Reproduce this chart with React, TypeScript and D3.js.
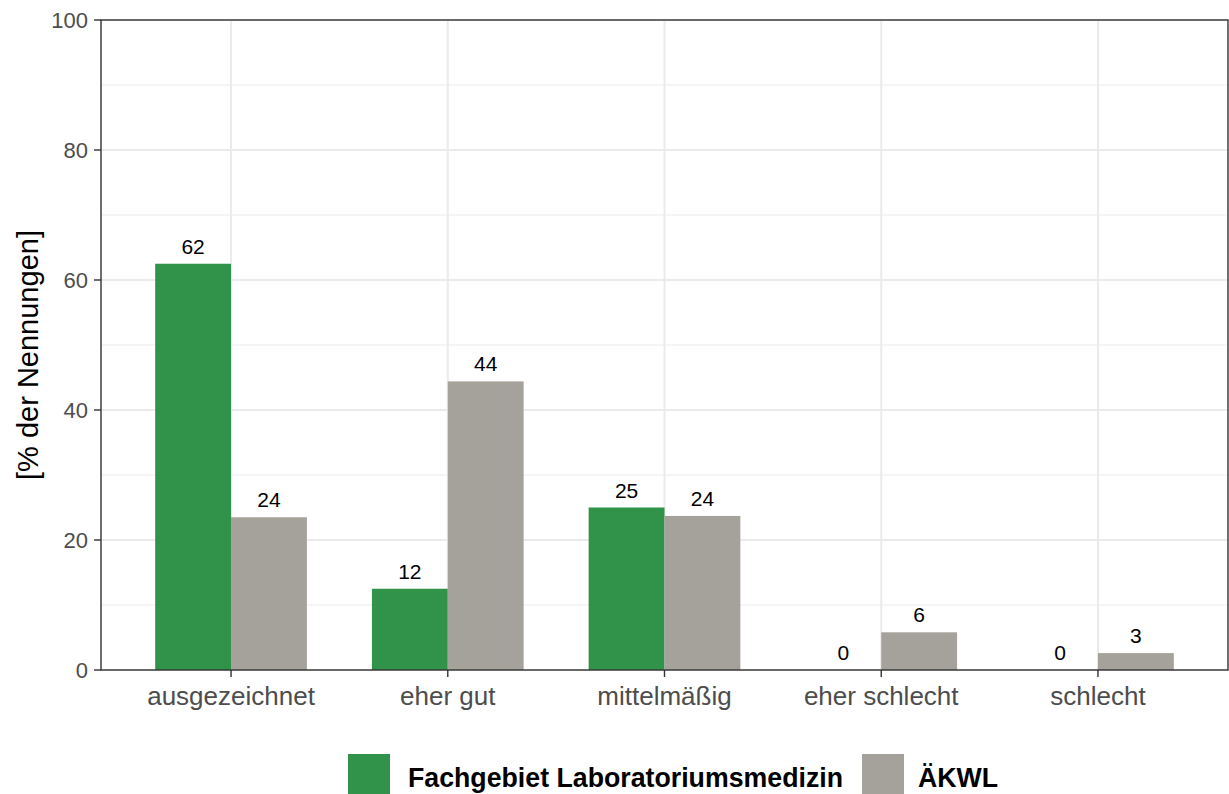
import React from "react";
import * as d3 from "d3";

const categories = ["ausgezeichnet", "eher gut", "mittelmäßig", "eher schlecht", "schlecht"];
const seriesNames = ["Fachgebiet Laboratoriumsmedizin", "ÄKWL"];
const greenValues = [62.5, 12.5, 25.0, 0, 0];
const greyValues = [23.5, 44.4, 23.7, 5.8, 2.6];
const greenLabels = ["62", "12", "25", "0", "0"];
const greyLabels = ["24", "44", "24", "6", "3"];
const yTicks = [0, 20, 40, 60, 80, 100];
const yMinor = [10, 30, 50, 70, 90];
const colors = ["#31934A", "#A5A29B"];

const W = 1229, H = 794;
const L = 101, R = 1228, T = 20, B = 670;

export default function App() {
  const x = d3.scaleLinear().domain([0.4, categories.length + 0.6]).range([L, R]);
  const y = d3.scaleLinear().domain([0, 100]).range([B, T]);
  const unit = x(2) - x(1);
  const barW = 0.35 * unit;
  const series = [
    { vals: greenValues, labels: greenLabels, color: colors[0], off: -1 },
    { vals: greyValues, labels: greyLabels, color: colors[1], off: 0 },
  ];
  const font = "Liberation Sans, Arial, sans-serif";
  return (
    <svg width={W} height={H} style={{ position: "absolute", left: 0, top: 0, fontFamily: font }}>
      <rect x={0} y={0} width={W} height={H} fill="#fff" />
      {yMinor.map((v) => (
        <line key={"mn" + v} x1={L} x2={R} y1={y(v)} y2={y(v)} stroke="#EBEBEB" strokeWidth={1} />
      ))}
      {yTicks.map((v) => (
        <line key={"mj" + v} x1={L} x2={R} y1={y(v)} y2={y(v)} stroke="#EBEBEB" strokeWidth={2} />
      ))}
      {categories.map((c, i) => (
        <line key={"vg" + c} x1={x(i + 1)} x2={x(i + 1)} y1={T} y2={B} stroke="#EBEBEB" strokeWidth={2} />
      ))}
      {series.map((s, si) =>
        s.vals.map((v, i) => (
          <rect key={"b" + si + i} x={x(i + 1) + s.off * barW} y={y(v)} width={barW} height={B - y(v)} fill={s.color} />
        ))
      )}
      {series.map((s, si) =>
        s.vals.map((v, i) => (
          <text key={"l" + si + i} x={x(i + 1) + s.off * barW + barW / 2} y={y(v) - 10} textAnchor="middle" fontSize={21} fill="#000">
            {s.labels[i]}
          </text>
        ))
      )}
      <rect x={L} y={T} width={R - L} height={B - T} fill="none" stroke="#333" strokeWidth={1.4} />
      {yTicks.map((v) => (
        <g key={"yt" + v}>
          <line x1={L - 7} x2={L} y1={y(v)} y2={y(v)} stroke="#333" strokeWidth={1.4} />
          <text x={L - 13} y={y(v)} dy="0.36em" textAnchor="end" fontSize={22} fill="#4D4D4D">{v}</text>
        </g>
      ))}
      {categories.map((c, i) => (
        <g key={"xt" + c}>
          <line x1={x(i + 1)} x2={x(i + 1)} y1={B} y2={B + 7} stroke="#333" strokeWidth={1.4} />
          <text x={x(i + 1)} y={705} textAnchor="middle" fontSize={26} fill="#4D4D4D">{c}</text>
        </g>
      ))}
      <text transform={`translate(38,${355}) rotate(-90)`} textAnchor="middle" fontSize={29} fill="#000">
        [% der Nennungen]
      </text>
      <g>
        <rect x={348} y={754} width={42} height={42} fill={colors[0]} />
        <text x={408} y={787} fontSize={27} fontWeight="bold" fill="#000" textLength={435} lengthAdjust="spacingAndGlyphs">{seriesNames[0]}</text>
        <rect x={862} y={754} width={42} height={42} fill={colors[1]} />
        <text x={918} y={787} fontSize={27} fontWeight="bold" fill="#000" textLength={80} lengthAdjust="spacingAndGlyphs">{seriesNames[1]}</text>
      </g>
    </svg>
  );
}
